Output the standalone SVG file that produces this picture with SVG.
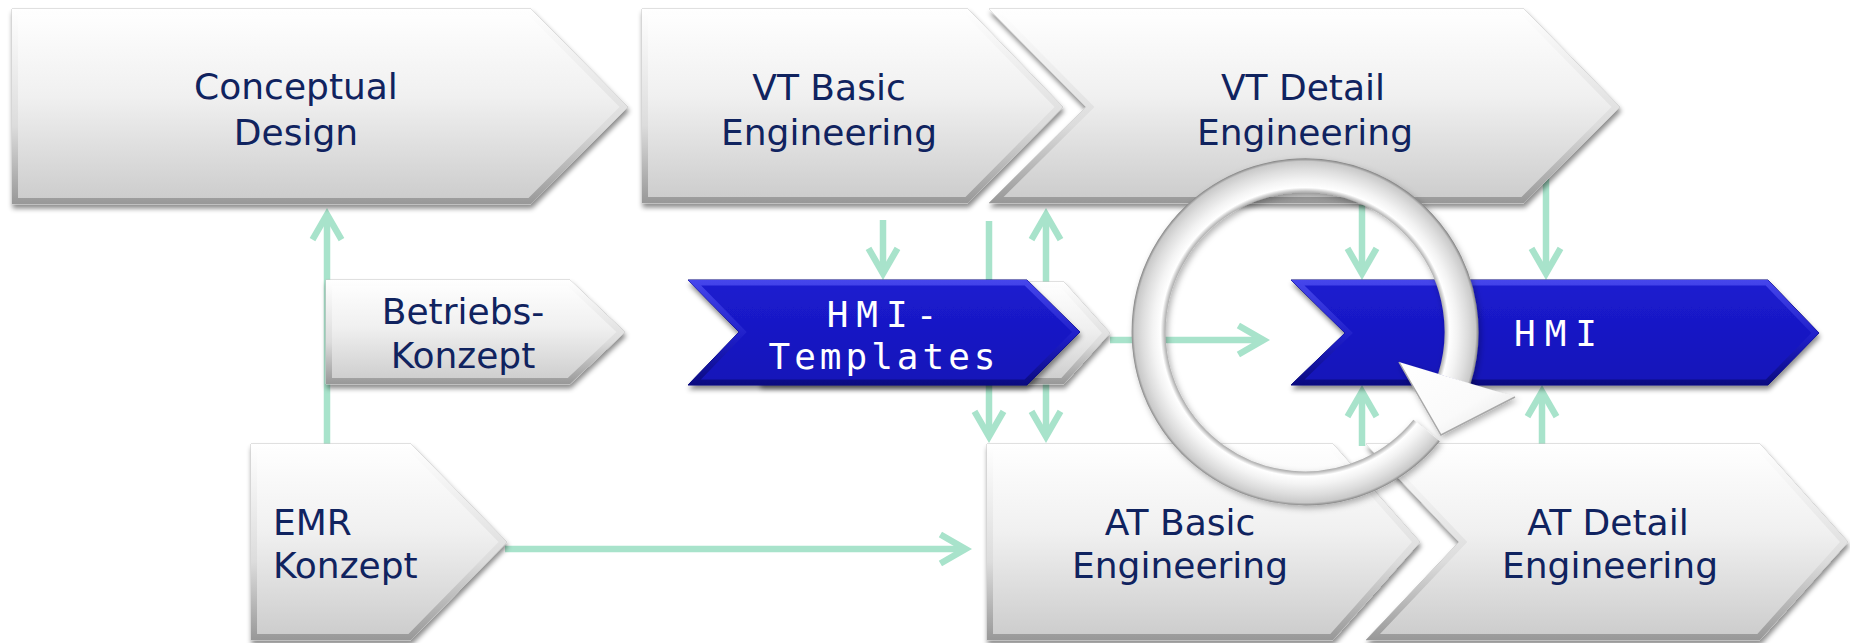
<svg xmlns="http://www.w3.org/2000/svg" xmlns:xlink="http://www.w3.org/1999/xlink" width="1850" height="643" viewBox="0 0 1850 643">
  <style>
    .gbody { fill: url(#grayBody); stroke: #c4c4c4; stroke-width: 1; }
    .grim { fill: none; stroke: url(#grayRim); stroke-width: 12; }
    .bbody { fill: url(#blueBody); stroke: #0c0c7a; stroke-width: 1; }
    .brim { fill: none; stroke: url(#blueRim); stroke-width: 11; }
    .lbl { font-family: "DejaVu Sans", Verdana, sans-serif; font-size: 36px; fill: #10235f; text-anchor: middle; }
    .lbl.left { text-anchor: start; }
    .mono { font-family: "DejaVu Sans Mono", "Liberation Mono", monospace; font-size: 36px; fill: #ffffff; text-anchor: middle; }
    .conn { fill: none; stroke: #a8e3cb; stroke-width: 6.5; }
  </style>
  <defs>
    <linearGradient id="grayBody" x1="0" y1="0" x2="0" y2="1">
      <stop offset="0" stop-color="#ffffff"/>
      <stop offset="0.45" stop-color="#f0f0f0"/>
      <stop offset="1" stop-color="#cbcbcb"/>
    </linearGradient>
    <linearGradient id="grayRim" x1="0" y1="0" x2="0" y2="1">
      <stop offset="0" stop-color="#ffffff"/>
      <stop offset="0.6" stop-color="#dcdcdc"/>
      <stop offset="1" stop-color="#989898"/>
    </linearGradient>
    <linearGradient id="blueBody" x1="0" y1="0" x2="0" y2="1">
      <stop offset="0" stop-color="#1c1cd0"/>
      <stop offset="1" stop-color="#1414b8"/>
    </linearGradient>
    <linearGradient id="blueRim" x1="0" y1="0" x2="0" y2="1">
      <stop offset="0" stop-color="#4646ec"/>
      <stop offset="0.55" stop-color="#1e1ec8"/>
      <stop offset="1" stop-color="#0a0a80"/>
    </linearGradient>
    <!-- tube shading across the loop's width -->
    <radialGradient id="ringShade" gradientUnits="userSpaceOnUse" cx="1305" cy="332" r="175">
      <stop offset="0.79" stop-color="#9a9a9a"/>
      <stop offset="0.805" stop-color="#c2c2c2"/>
      <stop offset="0.825" stop-color="#ffffff"/>
      <stop offset="0.87" stop-color="#f3f3f3"/>
      <stop offset="0.93" stop-color="#dddddd"/>
      <stop offset="0.975" stop-color="#c9c9c9"/>
      <stop offset="0.99" stop-color="#8a8a8a"/>
      <stop offset="1" stop-color="#8a8a8a"/>
    </radialGradient>
    <linearGradient id="headFill" x1="0" y1="0" x2="1" y2="1">
      <stop offset="0" stop-color="#ffffff"/>
      <stop offset="0.6" stop-color="#fafafa"/>
      <stop offset="1" stop-color="#e2e2e2"/>
    </linearGradient>
    <filter id="shadow" x="-5%" y="-10%" width="110%" height="125%">
      <feDropShadow dx="1" dy="4" stdDeviation="2.5" flood-color="#000000" flood-opacity="0.45"/>
    </filter>
    <filter id="ringShadow" x="-10%" y="-10%" width="120%" height="120%">
      <feDropShadow dx="2" dy="3" stdDeviation="3" flood-color="#000000" flood-opacity="0.3"/>
    </filter>

    <!-- open arrowhead, tip 10px ahead of the line end -->
    <marker id="ah" markerUnits="userSpaceOnUse" viewBox="-40 -25 55 50" refX="0" refY="0" markerWidth="55" markerHeight="50" orient="auto-start-reverse" overflow="visible">
      <polygon points="10,0 -20,-17.3 -23.2,-11.7 -3,0 -23.2,11.7 -20,17.3" fill="#a8e3cb"/>
    </marker>

    <!-- node outlines -->
    <path id="s-concept" d="M12,9 H531 L628,107 L531,204 H12 Z"/>
    <path id="s-vtbasic" d="M642,9 H968 L1063,107 L968,203 H642 Z"/>
    <path id="s-vtdetail" d="M989,9 H1524 L1620,107 L1524,203 H989 L1086,107 Z"/>
    <path id="s-betrieb" d="M326,280 H570 L625,332 L570,384 H326 Z"/>
    <path id="s-tplback" d="M760,282 H1064 L1110,333 L1064,384 H760 Z"/>
    <path id="s-tpl" d="M688,280 H1027 L1080,332 L1027,385 H688 L739,332 Z"/>
    <path id="s-hmi" d="M1291,280 H1768 L1819,333 L1768,385 H1291 L1345,333 Z"/>
    <path id="s-emr" d="M251,444 H411 L507,542 L411,640 H251 Z"/>
    <path id="s-atbasic" d="M987,444 H1333 L1420,542 L1333,640 H987 Z"/>
    <path id="s-atdetail" d="M1366,444 H1760 L1848,542 L1760,640 H1366 L1459,542 Z"/>

    <clipPath id="c-concept"><use xlink:href="#s-concept"/></clipPath>
    <clipPath id="c-vtbasic"><use xlink:href="#s-vtbasic"/></clipPath>
    <clipPath id="c-vtdetail"><use xlink:href="#s-vtdetail"/></clipPath>
    <clipPath id="c-betrieb"><use xlink:href="#s-betrieb"/></clipPath>
    <clipPath id="c-tplback"><use xlink:href="#s-tplback"/></clipPath>
    <clipPath id="c-tpl"><use xlink:href="#s-tpl"/></clipPath>
    <clipPath id="c-hmi"><use xlink:href="#s-hmi"/></clipPath>
    <clipPath id="c-emr"><use xlink:href="#s-emr"/></clipPath>
    <clipPath id="c-atbasic"><use xlink:href="#s-atbasic"/></clipPath>
    <clipPath id="c-atdetail"><use xlink:href="#s-atdetail"/></clipPath>
  </defs>

  <rect width="1850" height="643" fill="#ffffff"/>

  <!-- connectors sit behind the process shapes -->
  <g id="connectors">
    <path class="conn" d="M327,444 V218" marker-end="url(#ah)"/>
    <path class="conn" d="M883,220 V270" marker-end="url(#ah)"/>
    <path class="conn" d="M989,221 V433" marker-end="url(#ah)"/>
    <path class="conn" d="M1046,218 V433" marker-start="url(#ah)" marker-end="url(#ah)"/>
    <path class="conn" d="M1110,340 H1260" marker-end="url(#ah)"/>
    <path class="conn" d="M1362,205 V270" marker-end="url(#ah)"/>
    <path class="conn" d="M1546,150 V270" marker-end="url(#ah)"/>
    <path class="conn" d="M1362,446 V395" marker-end="url(#ah)"/>
    <path class="conn" d="M1542,446 V395" marker-end="url(#ah)"/>
    <path class="conn" d="M505,549 H962" marker-end="url(#ah)"/>
  </g>

  <g id="n-concept">
    <use xlink:href="#s-concept" class="gbody" filter="url(#shadow)"/>
    <use xlink:href="#s-concept" class="grim" clip-path="url(#c-concept)"/>
    <text class="lbl" x="296" y="99">Conceptual</text>
    <text class="lbl" x="296" y="145">Design</text>
  </g>

  <g id="n-vtbasic">
    <use xlink:href="#s-vtbasic" class="gbody" filter="url(#shadow)"/>
    <use xlink:href="#s-vtbasic" class="grim" clip-path="url(#c-vtbasic)"/>
    <text class="lbl" x="829" y="100">VT Basic</text>
    <text class="lbl" x="829" y="145">Engineering</text>
  </g>

  <g id="n-vtdetail">
    <use xlink:href="#s-vtdetail" class="gbody" filter="url(#shadow)"/>
    <use xlink:href="#s-vtdetail" class="grim" clip-path="url(#c-vtdetail)"/>
    <text class="lbl" x="1303" y="100">VT Detail</text>
    <text class="lbl" x="1305" y="145">Engineering</text>
  </g>

  <g id="n-betrieb">
    <use xlink:href="#s-betrieb" class="gbody" filter="url(#shadow)"/>
    <use xlink:href="#s-betrieb" class="grim" clip-path="url(#c-betrieb)"/>
    <text class="lbl" x="463" y="324">Betriebs-</text>
    <text class="lbl" x="463" y="368">Konzept</text>
  </g>

  <g id="n-templates">
    <use xlink:href="#s-tplback" class="gbody" filter="url(#shadow)"/>
    <use xlink:href="#s-tplback" class="grim" clip-path="url(#c-tplback)"/>
    <use xlink:href="#s-tpl" class="bbody" filter="url(#shadow)"/>
    <use xlink:href="#s-tpl" class="brim" clip-path="url(#c-tpl)"/>
    <text class="mono" x="886" y="327" letter-spacing="8">HMI-</text>
    <text class="mono" x="884" y="369" letter-spacing="4">Templates</text>
  </g>

  <g id="n-hmi">
    <use xlink:href="#s-hmi" class="bbody" filter="url(#shadow)"/>
    <use xlink:href="#s-hmi" class="brim" clip-path="url(#c-hmi)"/>
    <text class="mono" x="1560" y="346" letter-spacing="9">HMI</text>
  </g>

  <g id="n-emr">
    <use xlink:href="#s-emr" class="gbody" filter="url(#shadow)"/>
    <use xlink:href="#s-emr" class="grim" clip-path="url(#c-emr)"/>
    <text class="lbl left" x="273" y="535">EMR</text>
    <text class="lbl left" x="273" y="578">Konzept</text>
  </g>

  <g id="n-atbasic">
    <use xlink:href="#s-atbasic" class="gbody" filter="url(#shadow)"/>
    <use xlink:href="#s-atbasic" class="grim" clip-path="url(#c-atbasic)"/>
    <text class="lbl" x="1180" y="535">AT Basic</text>
    <text class="lbl" x="1180" y="578">Engineering</text>
  </g>

  <g id="n-atdetail">
    <use xlink:href="#s-atdetail" class="gbody" filter="url(#shadow)"/>
    <use xlink:href="#s-atdetail" class="grim" clip-path="url(#c-atdetail)"/>
    <text class="lbl" x="1608" y="535">AT Detail</text>
    <text class="lbl" x="1610" y="578">Engineering</text>
  </g>

  <!-- iteration loop drawn over the engineering phases -->
  <g id="cycle" filter="url(#ringShadow)">
    <path d="M1426.6,430.5 A156.5,156.5 0 1 1 1454.3,379.1" fill="none" stroke="url(#ringShade)" stroke-width="34"/>
    <polygon points="1399,362 1515,397 1441,435" fill="url(#headFill)"/>
    <polyline points="1399,362 1441,435 1515,397" fill="none" stroke="#a8a8a8" stroke-width="1.5" stroke-linejoin="miter"/>
  </g>
</svg>
